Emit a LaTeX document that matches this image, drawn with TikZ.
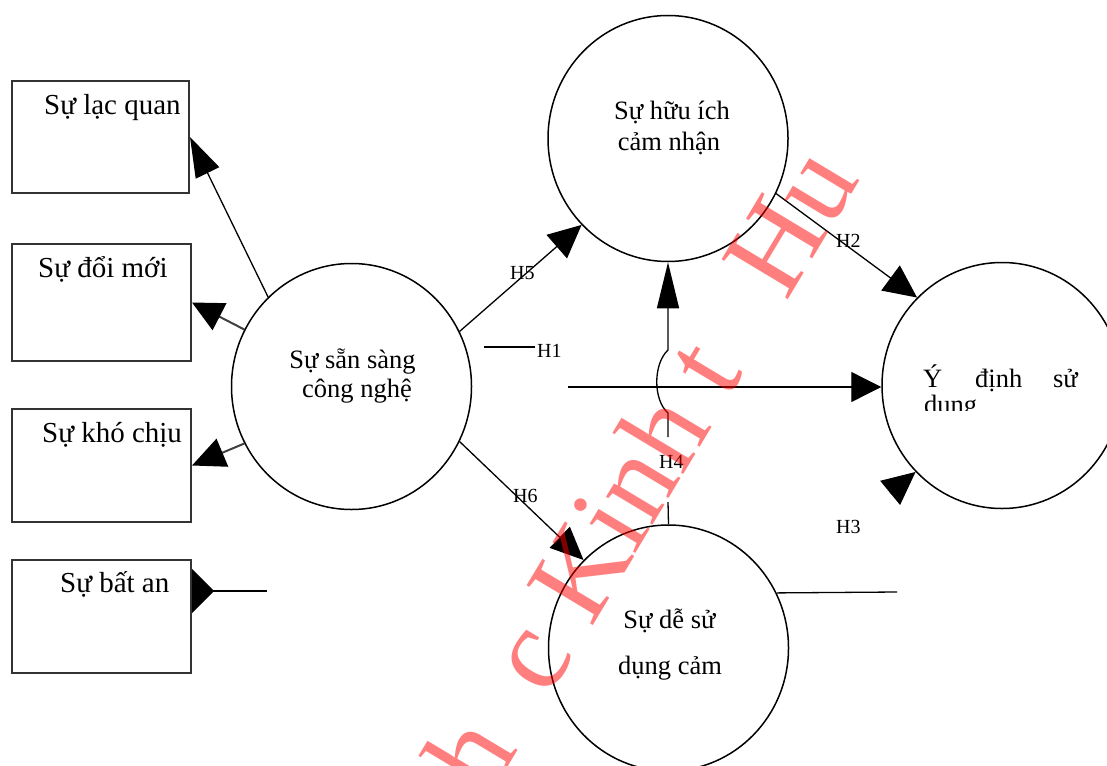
\documentclass[tikz,border=0pt]{standalone}
\usepackage{fontspec}
\setmainfont{Liberation Serif}
\usetikzlibrary{arrows.meta,shapes.geometric}
\begin{document}
\begin{tikzpicture}[x=1pt,y=-1pt,
  boxnode/.style={draw=black!80,line width=2pt,minimum width=179pt,minimum height=113pt,inner sep=0pt},
  ovalnode/.style={ellipse,draw,line width=1.5pt,minimum width=240pt,minimum height=246pt,inner sep=0pt},
  boxtext/.style={inner sep=0pt,anchor=base west,font=\fontsize{29}{34}\selectfont},
  ovaltext/.style={inner sep=0pt,anchor=base,font=\fontsize{26.5}{30}\selectfont},
  hlabel/.style={inner sep=0pt,anchor=base west,font=\fontsize{20}{24}\selectfont},
  conn/.style={line width=1.3pt},
  headed/.style 2 args={conn,-{Triangle[length=#1pt,width=#2pt,color=black]}},
  watermark/.style={inner sep=0pt,anchor=base west,text=red,opacity=0.5,font=\fontsize{118}{118}\selectfont}]
\useasboundingbox (0,0) rectangle (1107,765);
\fill[white] (0,0) rectangle (1107,765);

% indicator boxes
\node[boxnode,minimum width=177pt,minimum height=112pt] (b1) at (100.5,137) {};
\node[boxnode,minimum height=117pt] (b2) at (101.5,302.5) {};
\node[boxnode] (b3) at (101.5,465.5) {};
\node[boxnode] (b4) at (101.5,616.5) {};
\node[boxtext] (t1) at (44,114) {Sự lạc quan};
\node[boxtext] (t2) at (38,277) {Sự đổi mới};
\node[boxtext] (t3) at (42,442) {Sự khó chịu};
\node[boxtext] (t4) at (60,592) {Sự bất an};

% constructs
\node[ovalnode] (c1) at (351.5,386.5) {};
\node[ovalnode] (c2) at (668,138.5) {};
\node[ovalnode] (c3) at (1002,385.5) {};
\node[ovalnode] (c4) at (668.5,648) {};
\node[ovaltext] (c1a) at (352.5,368) {Sự sẵn sàng};
\node[ovaltext] (c1b) at (357,397) {công nghệ};
\node[ovaltext] (c2a) at (672,120) {Sự hữu ích};
\node[ovaltext] (c2b) at (669,150) {cảm nhận};
\node[ovaltext] (c4a) at (669.5,628) {Sự dễ sử};
\node[ovaltext] (c4b) at (670,674) {dụng cảm};
\node[ovaltext,anchor=base west] (c3a) at (923,387) {Ý};
\node[ovaltext,anchor=base west] (c3b) at (975,387) {định};
\node[ovaltext,anchor=base east] (c3c) at (1078,387) {sử};
\begin{scope}
  \clip (900,385) rectangle (1000,410);
  \node[ovaltext,anchor=base west] (c3d) at (924,413) {dung};
\end{scope}

% readiness dimensions
\draw[headed={40}{26}] (c1.133.7) -- (b1.east);
\draw[headed={31}{30},draw=black!75,line width=2pt] (c1.152.5) -- (b2.east);
\draw[headed={33}{30},draw=black!75,line width=2pt] (c1.208) -- (b3.east);
\coordinate (s4) at (267,591);
\draw[conn,-{Triangle[reversed,length=22pt,width=44pt]}] (s4) -- (s4 -| b4.east);

% hypotheses
\draw[headed={33}{31}] (c1.27.1) -- (c2.225.5);
\node[hlabel] (h5) at (510,279) {H5};
\draw[headed={33}{29}] (c1.-27.9) -- (c4.134.2);
\node[hlabel] (h6) at (513,502) {H6};

\coordinate (h4d) at (668,502);
\coordinate (h4a) at (668,437);
\coordinate (h4b) at (668,413);
\coordinate (h4c) at (668,350);
\draw[conn] (c4.north) -- (h4d);
\draw[headed={46}{22}] (h4a) -- (h4b) .. controls (653,400) and (653,364) .. (h4c) -- (c2.south);
\node[hlabel] (h4) at (659,468) {H4};

\coordinate (h1s) at (568,387);
\draw[headed={30}{30}] (h1s) -- (h1s -| c3.west);
\coordinate (h1p) at (484,347);
\coordinate (h1q) at (535,347);
\draw[conn] (h1p) -- (h1q);
\node[hlabel] (h1) at (537,357) {H1};

\draw[headed={33}{31}] (c2.-27.6) -- (c3.134.2);
\node[hlabel] (h2) at (836,247) {H2};

\coordinate (h3e) at (897,592);
\draw[conn] (c4.27.7) -- (h3e);
\coordinate (h3s) at (890,493);
\draw[headed={33}{31}] (h3s) -- (c3.225.8);
\node[hlabel] (h3) at (836,533) {H3};

% watermark
\node[watermark,rotate=59] (wm) at (488,800) {h\hspace{0.5em}c Kinh t\hspace{0.444em} Hu};
\end{tikzpicture}
\end{document}
